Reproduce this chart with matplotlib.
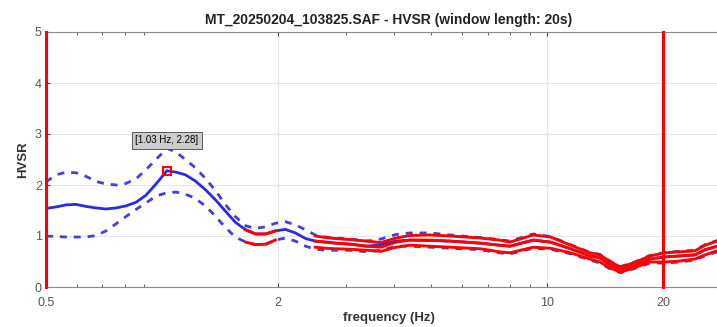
import matplotlib
matplotlib.use('Agg')
import matplotlib.pyplot as plt
from matplotlib.ticker import NullFormatter

plt.rcParams['font.family'] = ['Liberation Sans', 'DejaVu Sans']

# HVSR curve
freq = [0.5, 0.531, 0.564, 0.598, 0.635, 0.674, 0.716, 0.76, 0.806, 0.856, 0.909, 0.965,
        1.03, 1.09, 1.15, 1.22, 1.30, 1.38, 1.46, 1.55, 1.65, 1.75, 1.86, 1.97, 2.09,
        2.22, 2.36, 2.5, 2.66, 2.82, 3.08, 3.4, 3.7, 4.05, 4.4, 4.95, 5.6, 6.7, 7.5,
        8.0, 9.2, 10.2, 11.5, 12.9, 13.7, 14.6, 15.5, 17.0, 18.5, 20.2, 22.2, 24.2,
        25.7, 27.6, 30.0]
hvsr_mean = [1.54, 1.57, 1.61, 1.62, 1.58, 1.55, 1.53, 1.55, 1.59, 1.66, 1.8, 2.02,
             2.28, 2.25, 2.2, 2.08, 1.9, 1.7, 1.49, 1.27, 1.12, 1.04, 1.04, 1.1, 1.13,
             1.06, 0.95, 0.9, 0.88, 0.86, 0.84, 0.8, 0.83, 0.9, 0.92, 0.91, 0.9, 0.86, 0.82,
             0.8, 0.92, 0.88, 0.75, 0.61, 0.57, 0.43, 0.35, 0.43, 0.55, 0.59, 0.61, 0.63,
             0.73, 0.8, 0.86]
hvsr_upper = [2.06, 2.2, 2.25, 2.24, 2.17, 2.07, 2.02, 2.0, 2.03, 2.12, 2.3, 2.5,
              2.72, 2.64, 2.5, 2.34, 2.12, 1.88, 1.62, 1.38, 1.2, 1.15, 1.18, 1.25, 1.28,
              1.22, 1.12, 1.02, 0.98, 0.96, 0.94, 0.9, 0.94, 1.03, 1.06, 1.06, 1.02, 0.97, 0.93,
              0.9, 1.04, 0.99, 0.83, 0.68, 0.64, 0.5, 0.4, 0.5, 0.62, 0.68, 0.7, 0.72,
              0.83, 0.91, 0.97]
hvsr_lower = [1.0, 0.99, 0.98, 0.98, 0.98, 1.01, 1.1, 1.24, 1.38, 1.52, 1.65, 1.78,
              1.85, 1.86, 1.82, 1.74, 1.58, 1.38, 1.17, 0.98, 0.88, 0.83, 0.84, 0.92, 0.96,
              0.9, 0.8, 0.74, 0.72, 0.72, 0.72, 0.69, 0.72, 0.8, 0.8, 0.78, 0.76, 0.73, 0.67,
              0.65, 0.76, 0.74, 0.65, 0.53, 0.47, 0.35, 0.28, 0.37, 0.47, 0.47, 0.49, 0.53,
              0.61, 0.69, 0.74]

# curves inside the accepted band (drawn in red)
red_freq = [2.5, 2.66, 2.82, 3.08, 3.4, 3.7, 4.05, 4.4, 4.95, 5.6, 6.7, 7.5, 8.0, 9.2,
            10.2, 11.5, 12.9, 13.7, 14.6, 15.5, 17.0, 18.5, 20.2, 22.2, 24.2, 25.7, 27.6, 30.0]
red_top = [1.0, 0.97, 0.95, 0.93, 0.9, 0.87, 0.96, 1.01, 1.02, 1.0, 0.96, 0.92, 0.88, 1.02,
           0.98, 0.82, 0.67, 0.63, 0.49, 0.39, 0.49, 0.61, 0.67, 0.69, 0.71, 0.82, 0.9, 0.95]
red_mid = [0.9, 0.88, 0.86, 0.84, 0.8, 0.78, 0.88, 0.92, 0.92, 0.9, 0.86, 0.82, 0.8, 0.92,
           0.88, 0.75, 0.61, 0.57, 0.43, 0.35, 0.43, 0.55, 0.59, 0.61, 0.63, 0.73, 0.8, 0.86]
red_bot = [0.78, 0.76, 0.75, 0.74, 0.72, 0.7, 0.78, 0.82, 0.8, 0.78, 0.75, 0.69, 0.67, 0.78,
           0.76, 0.67, 0.55, 0.49, 0.37, 0.29, 0.39, 0.49, 0.49, 0.51, 0.55, 0.63, 0.71, 0.76]
short_freq = [1.65, 1.75, 1.86, 1.97]
short_mid = [1.12, 1.04, 1.04, 1.1]
short_bot = [0.88, 0.83, 0.84, 0.92]

peak_f, peak_a = 1.03, 2.28
f_limits = [0.5, 20]
xticks = [0.5, 2, 10, 20]
xticklabels = ['0.5', '2', '10', '20']

fig = plt.figure(figsize=(7.17, 3.27), dpi=100)
ax = fig.add_axes([46 / 717, 1 - 287 / 327, 685 / 717, 255 / 327])

blue = '#2a2ae6'
ax.plot(freq, hvsr_mean, color=blue, lw=2, solid_joinstyle='round')
ax.plot(freq, hvsr_upper, color='#4040e0', lw=2, ls=(0, (2.5, 2.5)))
ax.plot(freq, hvsr_lower, color='#4040e0', lw=2, ls=(0, (2.5, 2.5)))
for r in [red_top, red_mid, red_bot]:
    ax.plot(red_freq, r, color='red', lw=2.1, solid_joinstyle='round')
for r in [short_mid, short_bot]:
    ax.plot(short_freq, r, color='red', lw=2.1, solid_joinstyle='round')

for f in f_limits:
    ax.axvline(f, color='red', lw=2.2, clip_on=False, zorder=5)

ax.plot(peak_f, peak_a, marker='s', ms=6, mfc='none', mec='red', mew=1.5)
ax.text(peak_f, peak_a + 0.6, '[%.2f Hz, %.2f]' % (peak_f, peak_a), ha='center', va='center',
        fontsize=7, bbox=dict(boxstyle='square,pad=0.35', fc='#cccccc', ec='#444444', lw=0.6))

ax.set_xscale('log')
ax.set_xlim(0.5, 30)
ax.set_ylim(0, 5)
ax.set_xticks(xticks)
ax.set_xticklabels(xticklabels)
ax.set_yticks(range(6))
ax.xaxis.set_minor_formatter(NullFormatter())
ax.grid(True, which='major', color='#e6e6e6', lw=0.8)
ax.tick_params(which='both', direction='in', top=True, right=False, colors='#404040',
               labelsize=9, labelcolor='#555555')
ax.tick_params(which='minor', length=2)
ax.tick_params(which='major', length=3)
ax.tick_params(axis='x', pad=7)
ax.tick_params(axis='y', pad=3)
for s in ax.spines.values():
    s.set_color('#8a8a8a')
ax.spines['right'].set_visible(False)

ax.set_title('MT_20250204_103825.SAF - HVSR (window length: 20s)', fontsize=10,
             fontweight='bold', color='#222222', pad=6)
ax.set_xlabel('frequency (Hz)', fontsize=9.5, fontweight='bold', color='#333333', labelpad=2)
ax.set_ylabel('HVSR', fontsize=9.5, fontweight='bold', color='#333333')

fig.savefig('out.png', dpi=100)
